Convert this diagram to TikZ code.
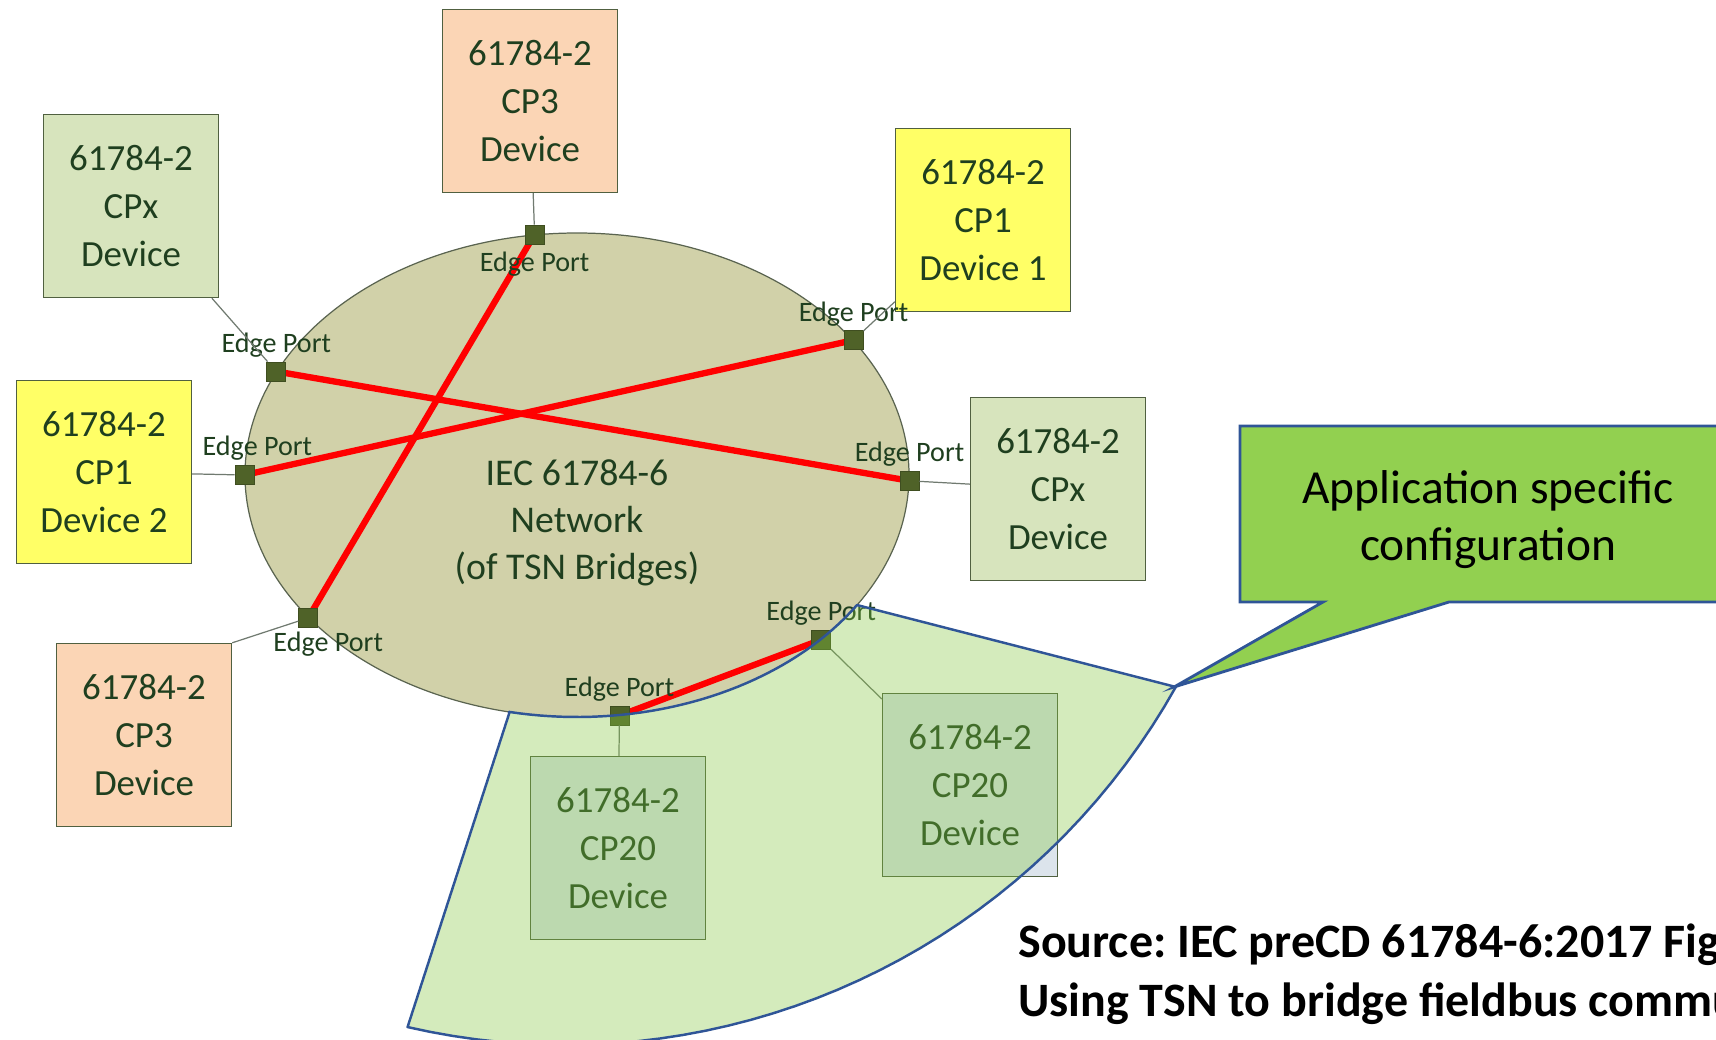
\documentclass[tikz,border=0pt]{standalone}
\usepackage{fontspec}
\setmainfont{Carlito}
\frenchspacing
\usetikzlibrary{shapes.geometric,positioning}
\definecolor{peach}{HTML}{FBD5B5}
\definecolor{olivelt}{HTML}{D7E4BD}
\definecolor{cpyellow}{HTML}{FFFF66}
\definecolor{cpblue}{HTML}{DCE4EC}
\definecolor{khaki}{HTML}{D1D1A9}
\definecolor{portgreen}{HTML}{4F6228}
\definecolor{boxline}{HTML}{506040}
\definecolor{netline}{HTML}{5A6450}
\definecolor{linkgray}{HTML}{707A70}
\definecolor{txtgreen}{HTML}{1F3F1F}
\definecolor{calloutgreen}{HTML}{92D050}
\definecolor{edgeblue}{HTML}{2F5597}
\definecolor{zonegreen}{HTML}{83C53F}
\begin{document}
\begin{tikzpicture}[x=0.2mm,y=-0.2mm,label distance=0.8mm,
  dev/.style={draw=boxline,line width=0.8pt,minimum width=3.5cm,minimum height=3.66cm,inner sep=0pt,align=center,text=txtgreen,font=\fontsize{21}{27.3}\selectfont},
  port/.style={draw=portgreen!80!black,fill=portgreen,minimum size=0.38cm,inner sep=0pt},
  eplbl/.style={text=txtgreen,font=\fontsize{16}{19}\selectfont,inner sep=0pt},
  link/.style={draw=linkgray,line width=0.7pt},
  flow/.style={draw=red,line width=3.6pt}]
\useasboundingbox (0,0) rectangle (1716,1039);
\clip (0,0) rectangle (1716,1039);
\node (net) [ellipse,draw=netline,line width=0.7pt,fill=khaki,minimum width=13.28cm,minimum height=9.68cm,inner sep=0pt] at (577,475) {};
\node (netlbl) [align=center,text=txtgreen,font=\fontsize{21.5}{26.8}\selectfont] at (577,523) {IEC 61784-6\\Network\\(of TSN Bridges)};
\node (cp3a) [dev,fill=peach] at (530,101) {61784-2\\CP3\\Device};
\node (cpxa) [dev,fill=olivelt] at (131,206) {61784-2\\CPx\\Device};
\node (cp1a) [dev,fill=cpyellow] at (983,220) {61784-2\\CP1\\Device 1};
\node (cp1b) [dev,fill=cpyellow] at (104,472) {61784-2\\CP1\\Device 2};
\node (cpxb) [dev,fill=olivelt] at (1058,489) {61784-2\\CPx\\Device};
\node (cp3b) [dev,fill=peach] at (144,735) {61784-2\\CP3\\Device};
\node (cp20a) [dev,fill=cpblue] at (618,848) {61784-2\\CP20\\Device};
\node (cp20b) [dev,fill=cpblue] at (970,785) {61784-2\\CP20\\Device};
\draw[flow] (net.100) -- (net.208);
\draw[flow] (net.161) -- (net.359);
\draw[flow] (net.180) -- (net.26);
\draw[flow] (net.280) -- (net.326);
\node (ptop) [port,label={[eplbl,yshift=-0.06cm]below:Edge Port}] at (net.100) {};
\node (ptl) [port,label={[eplbl]above:Edge Port}] at (net.161) {};
\node (plt) [port,label={[eplbl,xshift=0.26cm]above:Edge Port}] at (net.180) {};
\node (pur) [port,label={[eplbl]above:Edge Port}] at (net.26) {};
\node (prt) [port,label={[eplbl]above:Edge Port}] at (net.359) {};
\node (pll) [port,label={[eplbl,xshift=0.4cm]below:Edge Port}] at (net.208) {};
\node (pbot) [port,label={[eplbl]above:Edge Port}] at (net.280) {};
\node (pbr) [port,label={[eplbl]above:Edge Port}] at (net.326) {};
\draw[link] (cp3a) -- (ptop);
\draw[link] (cpxa) -- (ptl);
\draw[link] (cp1a) -- (pur);
\draw[link] (cp1b) -- (plt);
\draw[link] (cpxb) -- (prt);
\draw[link] (cp3b.north east) -- (pll);
\draw[link] (cp20a) -- (pbot);
\draw[link] (cp20b) -- (pbr);
\filldraw[draw=edgeblue,line width=1.4pt,fill=zonegreen,fill opacity=0.35,line join=round] (509,714)
  -- plot[domain=101.8:32.5,samples=40,variable=\t] ({577+332*cos(\t)},{475+242*sin(\t)})
  -- (1176,687)
  -- plot[domain=29.2:103,samples=40,variable=\t] ({565+700*cos(\t)},{345+700*sin(\t)}) -- cycle;
\filldraw[draw=edgeblue,line width=1.6pt,fill=calloutgreen] (1240,426) -- (1760,426) -- (1760,602) -- (1449,602) -- (1174,687) -- (1323,602) -- (1240,602) -- cycle;
\node (cfg) [align=center,font=\fontsize{27}{32.4}\selectfont] at (1488,520) {Application specific\\configuration};
\node (src) [anchor=west,align=left,inner sep=0pt,font=\bfseries\fontsize{27.3}{33.6}\selectfont] at (1018,974) {Source: IEC preCD 61784-6:2017 Fig\\Using TSN to bridge fieldbus commu};
\end{tikzpicture}
\end{document}
